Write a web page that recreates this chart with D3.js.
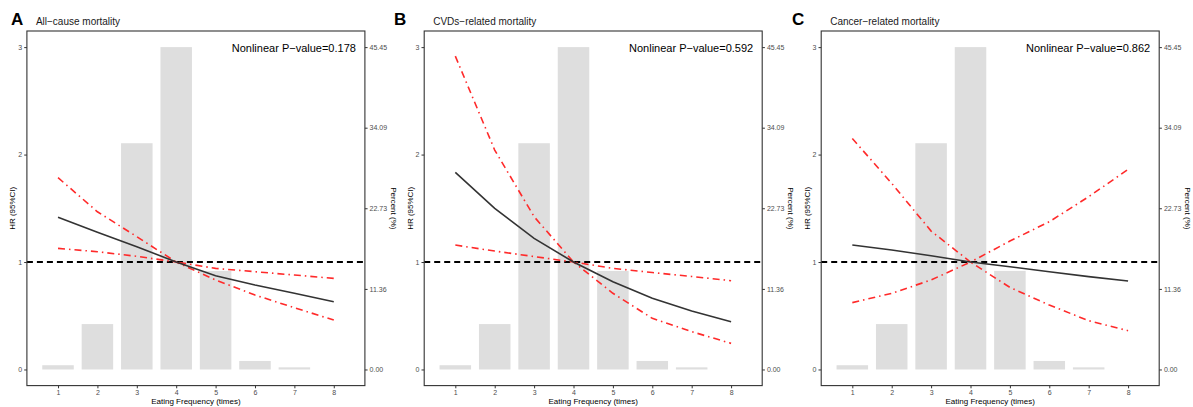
<!DOCTYPE html>
<html>
<head>
<meta charset="utf-8">
<script src="https://cdn.jsdelivr.net/npm/d3@7"></script>
<style>
  body { margin: 0; background: #fff; }
  svg { display: block; font-family: "Liberation Sans", Arial, sans-serif; }
  .tick text { fill: #4d4d4d; }
</style>
</head>
<body>
<script>
// Data
var freq = [1, 2, 3, 4, 5, 6, 7, 8];
var barPercent = [0.6, 6.4, 31.9, 45.45, 13.9, 1.2, 0.3, 0];
var hrTicks = [0, 1, 2, 3];
var percentTicks = [0, 11.36, 22.73, 34.09, 45.45];

var panelLetters = ["A", "B", "C"];
var panelTitles = ["All\u2212cause mortality", "CVDs\u2212related mortality", "Cancer\u2212related mortality"];
var pValues = ["0.178", "0.592", "0.862"];

var hrAll = [1.416, 1.278, 1.143, 1.0, 0.873, 0.786, 0.709, 0.631];
var upperAll = [1.785, 1.468, 1.236, 1.0, 0.941, 0.910, 0.879, 0.848];
var lowerAll = [1.127, 1.096, 1.053, 1.0, 0.833, 0.693, 0.575, 0.460];

var hrCvd = [1.834, 1.499, 1.220, 1.0, 0.817, 0.662, 0.544, 0.445];
var upperCvd = [2.916, 2.042, 1.422, 1.0, 0.941, 0.902, 0.866, 0.826];
var lowerCvd = [1.158, 1.102, 1.051, 1.0, 0.709, 0.476, 0.352, 0.243];

var hrCancer = [1.158, 1.112, 1.059, 1.0, 0.956, 0.910, 0.864, 0.823];
var upperCancer = [2.150, 1.732, 1.288, 1.0, 1.195, 1.375, 1.608, 1.862];
var lowerCancer = [0.622, 0.709, 0.833, 1.0, 0.764, 0.600, 0.454, 0.361];

var panelHr = [hrAll, hrCvd, hrCancer];
var panelUpper = [upperAll, upperCvd, upperCancer];
var panelLower = [lowerAll, lowerCvd, lowerCancer];

// SVG area
var svgWidth = 1193;
var svgHeight = 407;
var panelX = [0, 397.3, 794.3];
var letterX = [11, 394, 792];

var box = { left: 26.9, top: 31, width: 338, height: 354.6 };

var svg = d3.select("body")
  .append("svg")
  .attr("width", svgWidth)
  .attr("height", svgHeight);

// shared scales (inside a panel)
var xScale = d3.scaleLinear().domain([0.21, 8.79]).range([0, box.width]);
var yScale = d3.scaleLinear().domain([-0.15, 3.15]).range([box.height, 0]);
var pctMax = 45.45;
var pctScale = d3.scaleLinear()
  .domain([-0.15 * pctMax / 3, 3.15 * pctMax / 3])
  .range([box.height, 0]);

var barWidth = xScale(1.4) - xScale(0.6);

panelTitles.forEach(function(title, i) {
  var ox = panelX[i];

  // panel letter and title
  svg.append("text")
    .attr("x", letterX[i])
    .attr("y", 25)
    .style("font-size", "17px")
    .style("font-weight", "bold")
    .text(panelLetters[i]);

  svg.append("text")
    .attr("x", ox + box.left + 9)
    .attr("y", 25)
    .style("font-size", "10px")
    .attr("fill", "#1a1a1a")
    .text(title);

  var g = svg.append("g")
    .attr("transform", `translate(${ox + box.left}, ${box.top})`);

  // bars (percent)
  g.selectAll("rect.bar")
    .data(freq)
    .enter()
    .append("rect")
    .attr("class", "bar")
    .attr("x", d => xScale(d) - barWidth / 2)
    .attr("y", (d, j) => pctScale(barPercent[j]))
    .attr("width", barWidth)
    .attr("height", (d, j) => pctScale(0) - pctScale(barPercent[j]))
    .attr("fill", "#dedede");

  // reference line at HR = 1
  g.append("line")
    .attr("x1", 0)
    .attr("x2", box.width)
    .attr("y1", yScale(1))
    .attr("y2", yScale(1))
    .attr("stroke", "#000")
    .attr("stroke-width", 2)
    .attr("stroke-dasharray", "6,4");

  var line = d3.line()
    .x((d, j) => xScale(freq[j]))
    .y(d => yScale(d));

  [panelUpper[i], panelLower[i]].forEach(function(ci) {
    g.append("path")
      .datum(ci)
      .attr("d", line)
      .attr("fill", "none")
      .attr("stroke", "#ff2a2a")
      .attr("stroke-width", 1.6)
      .attr("stroke-dasharray", "7,4,1.5,4");
  });

  g.append("path")
    .datum(panelHr[i])
    .attr("d", line)
    .attr("fill", "none")
    .attr("stroke", "#333")
    .attr("stroke-width", 1.6);

  // axes
  var bottomAxis = d3.axisBottom(xScale).tickValues(freq).tickSize(2.7).tickPadding(2);
  var leftAxis = d3.axisLeft(yScale).tickValues(hrTicks)
    .tickFormat(d3.format("d")).tickSize(2.7).tickPadding(2);
  var rightAxis = d3.axisRight(pctScale).tickValues(percentTicks)
    .tickFormat(d3.format(".2f")).tickSize(2.7).tickPadding(2);

  [
    g.append("g").attr("transform", `translate(0, ${box.height})`).call(bottomAxis),
    g.append("g").call(leftAxis),
    g.append("g").attr("transform", `translate(${box.width}, 0)`).call(rightAxis)
  ].forEach(function(ax) {
    ax.select(".domain").remove();
    ax.selectAll(".tick line").attr("stroke", "#333");
    ax.selectAll(".tick text").style("font-size", "7px").attr("font-family", null);
  });

  // panel border
  g.append("rect")
    .attr("width", box.width)
    .attr("height", box.height)
    .attr("fill", "none")
    .attr("stroke", "#333")
    .attr("stroke-width", 1.1);

  // nonlinear p-value
  g.append("text")
    .attr("x", box.width - 9)
    .attr("y", 51.7 - box.top)
    .attr("text-anchor", "end")
    .style("font-size", "11px")
    .text("Nonlinear P\u2212value=" + pValues[i]);

  // axis titles
  g.append("text")
    .attr("x", box.width / 2)
    .attr("y", box.height + 18.5)
    .attr("text-anchor", "middle")
    .style("font-size", "8px")
    .text("Eating Frequency (times)");

  g.append("text")
    .attr("transform", `translate(${-14.5}, ${box.height / 2}) rotate(-90)`)
    .attr("text-anchor", "middle")
    .attr("dy", "0.35em")
    .style("font-size", "8px")
    .text("HR (95%CI)");

  g.append("text")
    .attr("transform", `translate(${box.width + 29}, ${box.height / 2}) rotate(90)`)
    .attr("text-anchor", "middle")
    .attr("dy", "0.35em")
    .style("font-size", "8px")
    .text("Percent (%)");
});
</script>
</body>
</html>
